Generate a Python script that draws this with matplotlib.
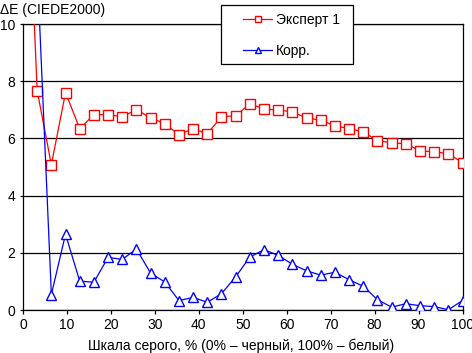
import numpy as np
import matplotlib
matplotlib.use("Agg")
from matplotlib import pyplot as plt
from matplotlib.patches import Rectangle

plt.rcParams['font.family'] = ['Liberation Sans', 'DejaVu Sans']

# 32 grey steps, 0..100 %
x = np.arange(32) * 100.0 / 31
expert = [19.1, 7.67, 5.08, 7.6, 6.34, 6.83, 6.83, 6.76, 7.0, 6.72, 6.51, 6.13,
          6.34, 6.16, 6.76, 6.79, 7.21, 7.03, 6.99, 6.93, 6.71, 6.64, 6.44, 6.34,
          6.23, 5.92, 5.85, 5.81, 5.57, 5.53, 5.47, 5.15]
corr = [15.0, 12.0, 0.54, 2.65, 1.01, 0.97, 1.84, 1.77, 2.13, 1.29, 0.98, 0.33,
        0.44, 0.27, 0.57, 1.16, 1.85, 2.11, 1.91, 1.6, 1.37, 1.22, 1.32, 1.06,
        0.83, 0.36, 0.1, 0.22, 0.15, 0.12, 0.01, 0.33]
xticks = np.arange(0, 101, 10)
yticks = np.arange(0, 11, 2)

W, H = 472, 353
fig = plt.figure(figsize=(W / 100, H / 100), dpi=100)
ax = fig.add_axes([23 / W, (H - 310) / H, (462.5 - 23) / W, (310 - 24) / H])

for v in yticks:
    ax.axhline(v, color='black', lw=0.9, zorder=1)

ax.plot(x, expert, color='red', lw=0.9, marker='s', ms=6.5, mfc='white',
        mec='red', mew=1.0, label='Эксперт 1', zorder=3)
ax.plot(x, corr, color='blue', lw=0.9, marker='^', ms=7, mfc='white',
        mec='blue', mew=1.0, label='Корр.', zorder=3)

ax.set_xlim(0, 100)
ax.set_ylim(0, 10)
ax.set_xticks(xticks)
ax.set_yticks(yticks)
ax.tick_params(axis='x', direction='out', length=3, width=0.9, labelsize=10, pad=3)
ax.tick_params(axis='y', direction='out', length=2.5, width=0.9, labelsize=10, pad=3)
for s in ax.spines.values():
    s.set_linewidth(0.9)
    s.set_color('black')

fig.text(0.0, 1 - 14 / H, 'ΔE (CIEDE2000)', fontsize=10, ha='left', va='baseline')
fig.text(241.5 / W, 1 - 350 / H, 'Шкала серого, % (0% – черный, 100% – белый)',
         fontsize=10, ha='center', va='baseline')

# legend box drawn separately (square frame, wide left margin)
box = Rectangle((221 / W, 1 - 64 / H), (353 - 221) / W, (64 - 5) / H,
                transform=fig.transFigure, facecolor='white', edgecolor='black',
                lw=0.9, zorder=4)
fig.patches.append(box)
leg = fig.legend(loc='upper left', bbox_to_anchor=(243 / W, 1 - 13 / H),
                 frameon=False, fontsize=10, handlelength=2.1, markerscale=0.7,
                 borderpad=0, labelspacing=1.25, handletextpad=0.3,
                 borderaxespad=0)
leg.set_zorder(5)

fig.savefig('out.png', dpi=100)
